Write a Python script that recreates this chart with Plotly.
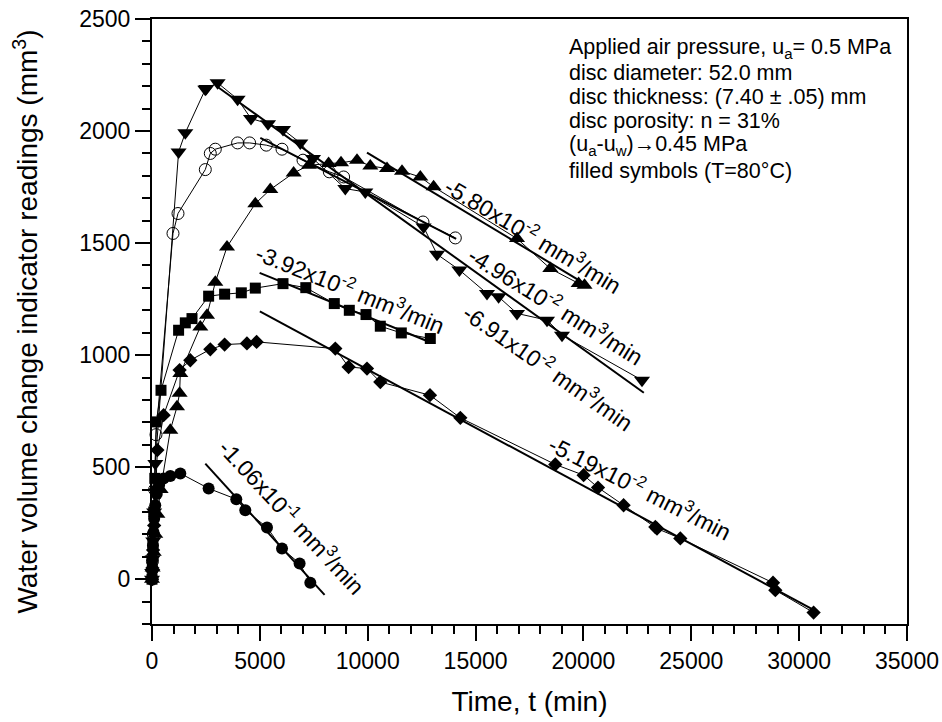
import plotly.graph_objects as go

# ---- measured series: elapsed time (min) and water volume change reading (mm^3) ----
# filled circles
t_circ = [0, 10, 25, 45, 70, 100, 150, 220, 330, 538, 848, 1312,
          2625, 3908, 4325, 5331, 6027, 6843, 7339]
v_circ = [0, 40, 90, 150, 210, 270, 330, 380, 420, 449, 461, 472,
          405, 357, 308, 231, 137, 70, -16]

# filled squares
t_sq = [0, 15, 40, 80, 130, 200, 417, 1233, 1544, 1854, 2625, 3366, 4140,
        4789, 6073, 7130, 8451, 9147, 9921, 10584, 11557, 12902]
v_sq = [0, 60, 160, 300, 450, 702, 843, 1111, 1144, 1163, 1263, 1272, 1278,
        1299, 1319, 1301, 1230, 1200, 1181, 1129, 1099, 1074]

# filled diamonds
t_dia = [0, 20, 50, 100, 160, 250, 538, 1280, 1776, 2703, 3366, 4401, 4850,
         8498, 9114, 9967, 10584, 12886, 14293, 18696, 20009, 20676, 21862,
         23333, 23410, 24491, 28789, 28896, 30670]
v_dia = [0, 50, 130, 240, 400, 576, 732, 933, 977, 1026, 1047, 1052, 1059,
         1029, 947, 940, 880, 821, 720, 512, 464, 409, 330,
         233, 226, 182, -16, -49, -149]

# filled up-triangles
t_up = [0, 30, 80, 150, 250, 400, 848, 1159, 1280, 1312, 2239, 2550, 2935,
        3477, 4789, 5484, 6565, 7276, 8187, 8762, 9504, 10120, 10894, 11590,
        12438, 13055, 16921, 18465, 19777, 20050]
v_up = [0, 50, 120, 200, 290, 400, 665, 769, 830, 918, 1126, 1178, 1325,
        1483, 1676, 1739, 1813, 1847, 1855, 1858, 1870, 1844, 1833, 1821,
        1795, 1751, 1520, 1386, 1320, 1312]

# filled down-triangles
t_dn = [0, 10, 30, 60, 100, 153, 1233, 1544, 2471, 2517, 3041, 3968, 4589,
        5378, 6073, 6875, 7464, 8961, 9888, 12591, 13212, 14250, 15530,
        16068, 16921, 18312, 19007, 22715]
v_dn = [0, 30, 90, 170, 300, 516, 1907, 1992, 2186, 2190, 2215, 2142, 2056,
        2033, 2007, 1947, 1877, 1743, 1728, 1572, 1450, 1380, 1275,
        1260, 1186, 1156, 1089, 888]

# open circles
t_open = [0, 20, 60, 120, 185, 973, 1205, 2471, 2703, 2935, 3968, 4525,
          5299, 6027, 7000, 8219, 8883, 12563, 14061]
v_open = [0, 80, 200, 400, 645, 1543, 1632, 1828, 1900, 1919, 1947, 1947,
          1937, 1919, 1870, 1818, 1795, 1594, 1523]

# ---- linear fits of the decreasing branches: slope (mm^3/min) and span ----
fit_mantissa = [-1.06, -3.92, -5.80, -4.96, -6.91, -5.19]
fit_exponent = [-1, -2, -2, -2, -2, -2]
fit_t0 = [2471, 4989, 9967, 5021, 3000, 5000]
fit_v0 = [516, 1367, 1904, 1969, 2200, 1195]
fit_t1 = [8000, 12950, 20300, 14100, 22800, 30800]

# label placement (centre, in data units) and text rotation for each fit
lab_t = [6504, 9195, 17700, 18750, 18400, 22650]
lab_v = [281, 1298, 1535, 1225, 946, 411]
lab_angle = [47, 22, 31, 32, 35, 27]

# note block
notes = [
    "Applied air pressure, u<sub>a</sub>= 0.5 MPa",
    "disc diameter: 52.0 mm",
    "disc thickness: (7.40 \u00b1 .05) mm",
    "disc porosity: n = 31%",
    "(u<sub>a</sub>-u<sub>w</sub>)\u21920.45 MPa",
    "filled symbols (T=80\u00b0C)",
]
note_t = 19250
note_v = [2369, 2258, 2151, 2043, 1936, 1821]

FONT = "Liberation Sans, Arial, sans-serif"

fig = go.Figure()

series = [
    (t_circ, v_circ, dict(symbol="circle", size=12, color="black")),
    (t_sq, v_sq, dict(symbol="square", size=11, color="black")),
    (t_dia, v_dia, dict(symbol="diamond", size=11, color="black")),
    (t_up, v_up, dict(symbol="triangle-up", size=14, color="black")),
    (t_dn, v_dn, dict(symbol="triangle-down", size=14, color="black")),
    (t_open, v_open, dict(symbol="circle-open", size=12, color="black",
                          line=dict(width=1, color="black"))),
]
for tx, vy, mk in series:
    fig.add_trace(go.Scatter(
        x=tx, y=vy, mode="lines+markers",
        line=dict(color="black", width=1),
        marker=mk, cliponaxis=False, showlegend=False,
    ))

for i in range(len(fit_mantissa)):
    slope = fit_mantissa[i] * 10 ** fit_exponent[i]
    v1 = fit_v0[i] + slope * (fit_t1[i] - fit_t0[i])
    fig.add_trace(go.Scatter(
        x=[fit_t0[i], fit_t1[i]], y=[fit_v0[i], v1], mode="lines",
        line=dict(color="black", width=2), showlegend=False,
    ))
    label = (f"{fit_mantissa[i]:.2f}x10<sup>{fit_exponent[i]}</sup> "
             f"mm<sup>3</sup>/min")
    fig.add_annotation(
        x=lab_t[i], y=lab_v[i], xref="x", yref="y", text=label,
        textangle=lab_angle[i], showarrow=False,
        xanchor="center", yanchor="middle",
        font=dict(family=FONT, size=23, color="black"),
    )

for txt, vy in zip(notes, note_v):
    fig.add_annotation(
        x=note_t, y=vy, xref="x", yref="y", text=txt, showarrow=False,
        xanchor="left", yanchor="middle",
        font=dict(family=FONT, size=21.5, color="black"),
    )

axis_common = dict(
    showline=True, linecolor="black", linewidth=2, mirror=True,
    ticks="outside", ticklen=15, tickwidth=2, tickcolor="black",
    showgrid=False, zeroline=False, tickformat="d",
    tickfont=dict(family=FONT, size=23, color="black"),
)

fig.update_xaxes(
    range=[0, 35000], tick0=0, dtick=5000,
    minor=dict(dtick=1000, ticks="outside", ticklen=8, tickwidth=1.5,
               tickcolor="black", showgrid=False),
    title=dict(text="Time, t (min)", standoff=19,
               font=dict(family=FONT, size=28, color="black")),
    **axis_common,
)
fig.update_yaxes(
    range=[-200, 2500], tick0=0, dtick=500,
    minor=dict(dtick=100, ticks="outside", ticklen=8, tickwidth=1.5,
               tickcolor="black", showgrid=False),
    title=dict(text="Water volume change indicator readings (mm<sup>3</sup>)",
               standoff=33, font=dict(family=FONT, size=28, color="black")),
    **axis_common,
)

fig.update_layout(
    width=942, height=722,
    margin=dict(l=152, r=35, t=19, b=98, autoexpand=False),
    plot_bgcolor="white", paper_bgcolor="white",
    font=dict(family=FONT, color="black"),
)

fig.write_html("out.html")
